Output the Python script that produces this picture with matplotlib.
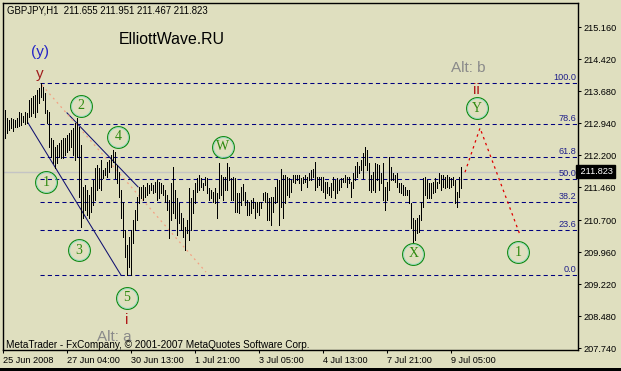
import matplotlib
matplotlib.use('Agg')
import matplotlib.pyplot as plt
import numpy as np

# GBPJPY H1 - highs / lows
bar_high = [
    213.18, 213.25, 213.06, 213.02, 213.06, 213.04, 213.02, 213.06, 213.20, 213.18, 213.11, 213.20, 213.18,
    213.48, 213.52, 213.57, 213.59, 213.71, 213.76, 213.86, 213.78, 213.64, 213.25, 213.20,
    212.60, 212.55, 212.39, 212.44, 212.48, 212.55, 212.60, 212.60, 212.67, 212.71, 212.78, 212.83, 212.95, 213.06, 212.85,
    212.44, 211.47, 211.51, 211.40, 211.28, 211.47, 211.63, 211.90, 211.97, 211.90, 212.09,
    211.86, 211.90, 212.04, 212.09, 212.21, 212.32, 212.27, 211.97, 211.81, 211.40,
    211.12, 210.47, 210.12, 210.31, 210.47, 210.70, 210.93, 211.23, 211.47, 211.47,
    211.51, 211.47, 211.56, 211.51, 211.56, 211.51, 211.58, 211.63,
    211.58, 211.56, 211.51, 211.40, 211.28, 211.17, 211.56, 211.93, 211.40, 211.21, 211.10, 210.86,
    210.76, 210.54, 210.70, 211.44, 211.21, 211.40, 211.56, 211.67, 211.74, 211.67,
    211.56, 211.70, 211.67, 211.44, 211.40, 211.35, 211.44, 211.33, 212.02, 211.74,
    211.70, 211.70, 212.02, 211.93, 211.67, 211.70, 211.67,
    211.33, 211.33, 211.47, 211.54, 211.35, 211.17, 211.12, 211.17, 211.21, 211.12, 211.12, 211.12, 211.12,
    211.33, 211.35, 211.33, 211.21, 211.23, 211.23, 211.47, 211.63, 211.63, 211.88,
    211.74, 211.74, 211.70, 211.67, 211.63, 211.74, 211.74, 211.74, 211.74, 211.67,
    211.70, 211.74, 211.70, 211.79, 211.86, 211.88,
    212.04, 211.70, 211.70, 211.70, 211.70, 211.58, 211.58, 211.47, 211.56, 211.70,
    211.63, 211.67, 211.63, 211.67, 211.67, 211.74, 211.70, 211.70, 211.58, 211.79,
    211.95, 212.04, 211.95, 212.09, 212.25, 212.39, 212.32, 212.02, 211.74, 211.81,
    212.02, 212.00, 211.97, 211.79, 212.02, 211.47, 211.58, 212.16,
    211.93, 211.79, 211.74, 211.79, 211.56, 211.56, 211.51, 211.47, 211.40, 211.40,
    211.10, 210.76, 210.70, 210.76, 210.82, 211.12, 211.67, 211.70, 211.63, 211.56,
    211.56, 211.58, 211.67, 211.58, 211.79, 211.74, 211.74, 211.70, 211.74, 211.70,
    211.67, 211.70, 211.63, 211.35, 211.70, 211.93,
]
bar_low = [
    212.90, 212.60, 212.71, 212.78, 212.83, 212.76, 212.85, 212.85, 212.88, 212.90, 212.97, 212.92, 212.95,
    213.08, 213.11, 213.18, 213.08, 213.20, 213.41, 213.55, 213.48, 213.18, 212.95, 212.39,
    212.16, 212.02, 211.90, 212.02, 212.16, 212.14, 212.14, 212.21, 212.27, 212.32, 212.39, 212.21, 212.09, 212.16, 211.23,
    210.54, 210.76, 210.93, 210.82, 210.75, 210.89, 211.05, 211.17, 211.40, 211.44, 211.40,
    211.67, 211.74, 211.70, 211.81, 211.93, 212.04, 211.67, 211.56, 211.23, 210.76,
    210.31, 209.85, 209.43, 209.62, 209.43, 210.17, 210.47, 210.70, 211.10, 211.21,
    211.17, 211.23, 211.28, 211.33, 211.40, 211.33, 211.35, 211.17,
    211.21, 211.33, 211.28, 211.12, 210.93, 210.29, 210.70, 210.86, 210.76, 210.36, 210.63, 210.47,
    210.31, 210.01, 210.40, 210.24, 210.47, 210.86, 211.10, 211.35, 211.40, 211.47,
    211.40, 211.51, 211.33, 211.17, 211.21, 211.12, 211.10, 210.76, 211.21, 211.28,
    211.17, 211.40, 211.40, 211.63, 211.17, 211.17, 210.89,
    210.89, 210.86, 211.05, 211.17, 211.05, 210.82, 210.82, 210.86, 210.98, 210.76, 210.89, 210.82, 210.98,
    211.17, 211.12, 210.70, 210.70, 210.59, 210.89, 211.10, 211.12, 210.59, 211.00,
    210.76, 211.10, 211.28, 211.23, 211.35, 211.58, 211.56, 211.63, 211.56, 211.40,
    211.56, 211.58, 211.47, 211.63, 211.63, 211.70,
    211.40, 211.47, 211.51, 211.40, 211.35, 211.21, 211.33, 211.28, 211.23, 211.40,
    211.21, 211.33, 211.40, 211.47, 211.58, 211.58, 211.47, 211.56, 211.23, 211.44,
    211.63, 211.70, 211.79, 211.86, 211.67, 211.97, 211.86, 211.40, 211.35, 211.40,
    211.35, 211.63, 211.40, 211.56, 211.17, 210.93, 211.17, 211.40,
    211.63, 211.63, 211.58, 211.47, 211.35, 211.33, 211.28, 211.28, 211.28, 211.10,
    210.52, 210.19, 210.24, 210.40, 210.42, 210.70, 211.00, 211.28, 211.21, 211.21,
    211.21, 211.33, 211.35, 211.44, 211.56, 211.40, 211.47, 211.44, 211.47, 211.44,
    211.47, 211.51, 211.10, 211.00, 211.23, 211.44,
]
assert len(bar_high) == len(bar_low)

last_price = 211.823
header = "GBPJPY,H1  211.655 211.951 211.467 211.823"

# axis ticks
price_ticks = [207.740, 208.480, 209.220, 209.960, 210.700, 211.460, 212.200, 212.940, 213.680, 214.420, 215.160]
time_tick_bars = [0, 32, 64, 96, 128, 160, 192, 224]
time_tick_labels = ['25 Jun 2008', '27 Jun 04:00', '30 Jun 13:00', '1 Jul 21:00',
                    '3 Jul 05:00', '4 Jul 13:00', '7 Jul 21:00', '9 Jul 05:00']

# fibonacci retracement
fib_low, fib_high = 209.43, 213.86
fib_ratios = [0.0, 23.6, 38.2, 50.0, 61.8, 78.6, 100.0]
fib_start = 18.5

# elliott wave circled labels (bar index, price)
wave_names = ['1', '2', '3', '4', '5', 'W', 'X', 'Y', '1']
wave_x = [21.4, 38.8, 37.9, 57.5, 61.7, 109.7, 205.0, 236.7, 257.5]
wave_y = [211.58, 213.34, 210.01, 212.63, 208.91, 212.40, 209.93, 213.29, 209.96]

# plain text labels
lab_text = ['(y)', 'y', 'Alt: b', 'ii', 'i', 'Alt: a']
lab_x = [18.4, 18.4, 232.5, 236.7, 61.7, 55.4]
lab_y = [214.59, 214.07, 214.21, 213.72, 208.39, 207.99]
lab_col = ['#2424c8', '#a01c1c', '#8a8a8a', '#b01818', '#b01818', '#8a8a8a']

# trend lines
chan1_x, chan1_y = [12.35, 58.85], [212.95, 209.43]
chan2_x, chan2_y = [31.85, 67.35], [213.18, 211.47]
salmon_x, salmon_y = [19.35, 101.35], [213.82, 209.50]
proj_x, proj_y = [230.85, 238.35, 258.35], [211.81, 212.83, 210.36]

BG = '#dfdfbf'
W, H = 621, 371
plt.rcParams['font.family'] = ['Liberation Sans', 'DejaVu Sans']

fig = plt.figure(figsize=(W / 100, H / 100), dpi=100, facecolor=BG)
ax = fig.add_axes([2.7 / W, 1 - 350 / H, (578 - 2.7) / W, (350 - 3) / H], facecolor=BG)

idx = np.arange(len(bar_high))
ax.vlines(idx, bar_low, bar_high, colors='black', linewidth=0.7, antialiased=False, zorder=3)

ax.set_xlim(-0.3, 287.35)
ax.set_ylim(207.70, 215.72)

# current price line
ax.axhline(last_price, color='#c4c4c4', linewidth=1.0, zorder=1)

# fibo levels
xr = ax.get_xlim()[1]
for r in fib_ratios:
    lvl = fib_low + (fib_high - fib_low) * r / 100.0
    ax.plot([fib_start, xr], [lvl, lvl], color='#000080', linewidth=0.75,
            linestyle=(0, (4, 3)), zorder=2)
    ax.text(xr - 0.8, lvl + 0.025, f'{r:.1f}', color='#20208a', fontsize=6.6,
            ha='right', va='bottom', zorder=4)

# trend lines
ax.plot(chan1_x, chan1_y, color='#101070', linewidth=0.75, zorder=2)
ax.plot(chan2_x, chan2_y, color='#101070', linewidth=0.75, zorder=2)
ax.plot(salmon_x, salmon_y, color='#f4a082', linewidth=0.9, linestyle=(0, (1.5, 3)), zorder=2)
ax.plot(proj_x, proj_y, color='#e00000', linewidth=0.9, linestyle=(0, (2, 3)), zorder=4)

# wave circles
ax.plot(wave_x, wave_y, 'o', ms=15.6, mfc='none', mec='#128a12', mew=0.9, zorder=5)
ax.plot(wave_x, wave_y, 'o', ms=14.2, mfc='none', mec='#8fd8c0', mew=0.6, zorder=5)
for n, x, y in zip(wave_names, wave_x, wave_y):
    ax.text(x, y, n, color='#2f8a10', fontsize=10, family='Liberation Serif',
            ha='center', va='center', zorder=6)

for t, x, y, c in zip(lab_text, lab_x, lab_y, lab_col):
    ax.text(x, y, t, color=c, fontsize=11, ha='center', va='center', zorder=6)

# axes look
for s in ax.spines.values():
    s.set_color('black')
    s.set_linewidth(1.0)
ax.yaxis.tick_right()
ax.set_yticks(price_ticks)
ax.set_yticklabels([f'{p:.3f}' for p in price_ticks])
ax.set_xticks(time_tick_bars)
ax.set_xticklabels(time_tick_labels)
for lbl in ax.get_xticklabels():
    lbl.set_ha('left')
ax.tick_params(axis='both', direction='out', length=2.5, width=0.75, labelsize=6.6,
               colors='black', pad=1.8)

# price box
ax.text(1.0, last_price, f' {last_price:.3f}', transform=ax.get_yaxis_transform(),
        color='white', fontsize=6.6, ha='left', va='center', zorder=10, clip_on=False,
        bbox=dict(boxstyle='square,pad=0.25', fc='black', ec='black'))

# header / watermark texts
fig.text(7 / W, 1 - 10.7 / H, header, fontsize=6.9, ha='left', va='center', color='black')
fig.text(172 / W, 1 - 39.5 / H, 'ElliottWave.RU', fontsize=11.4, ha='center', va='center', color='black')
fig.text(6 / W, 1 - 345.5 / H, 'MetaTrader - FxCompany, © 2001-2007 MetaQuotes Software Corp.',
         fontsize=7.2, ha='left', va='center', color='black')

# bottom window frame
fig.patches.append(plt.Rectangle((0, 0), 1, 3.5 / H, transform=fig.transFigure,
                                 fc='black', ec='none'))

fig.savefig('out.png', dpi=100, facecolor=BG)
